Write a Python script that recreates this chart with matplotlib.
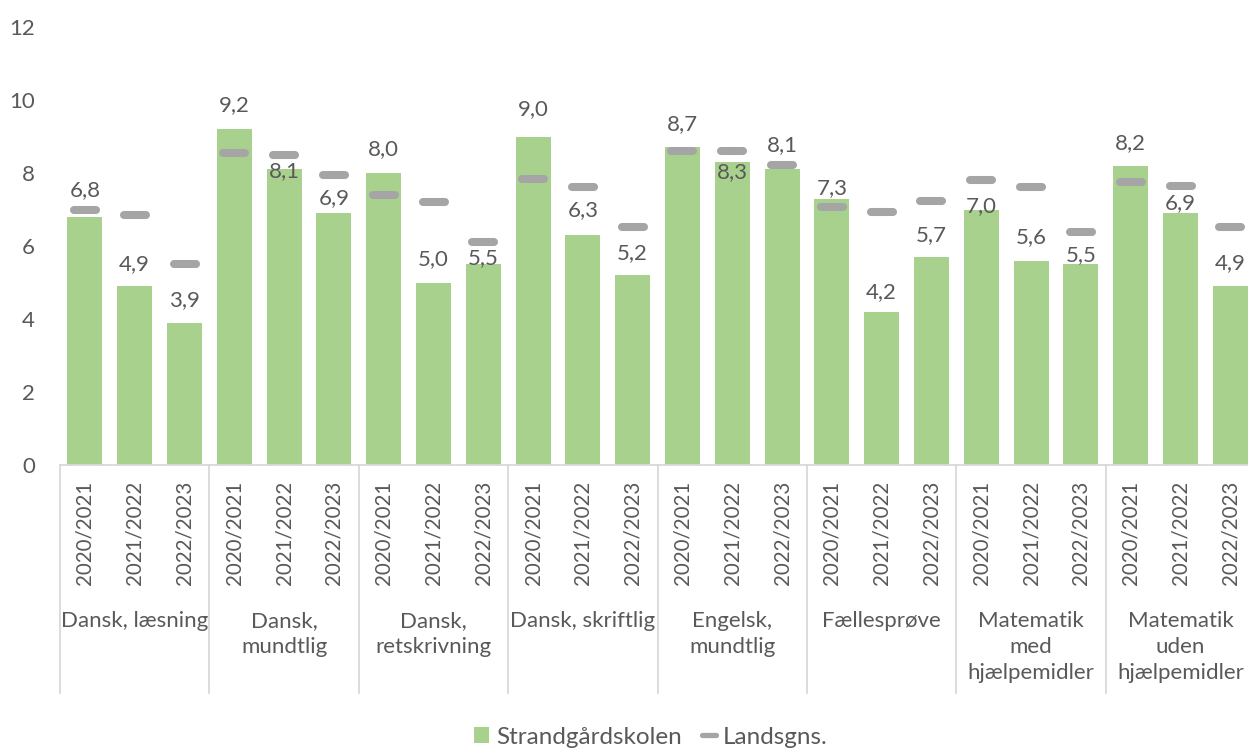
import numpy as np
import matplotlib
matplotlib.use("Agg")
import matplotlib.pyplot as plt
from matplotlib.markers import MarkerStyle
from matplotlib.lines import Line2D
from matplotlib.patches import Patch
import matplotlib.transforms as mtransforms

plt.rcParams['font.family'] = ['Lato', 'DejaVu Sans']

# data
subjects = ['Dansk, læsning', 'Dansk,\nmundtlig', 'Dansk,\nretskrivning', 'Dansk, skriftlig',
            'Engelsk,\nmundtlig', 'Fællesprøve', 'Matematik\nmed\nhjælpemidler',
            'Matematik\nuden\nhjælpemidler']
years = ['2020/2021', '2021/2022', '2022/2023']

school = [6.8, 4.9, 3.9,
          9.2, 8.1, 6.9,
          8.0, 5.0, 5.5,
          9.0, 6.3, 5.2,
          8.7, 8.3, 8.1,
          7.3, 4.2, 5.7,
          7.0, 5.6, 5.5,
          8.2, 6.9, 4.9]
national = [7.0, 6.85, 5.5,
            8.54, 8.49, 7.94,
            7.4, 7.2, 6.1,
            7.83, 7.63, 6.52,
            8.61, 8.61, 8.22,
            7.06, 6.94, 7.24,
            7.81, 7.61, 6.38,
            7.76, 7.64, 6.52]

# label offsets above bar top (pixels), labels were hand-placed in the original
label_offset = [27, 22, 23,
                24, -2, 15,
                24, 23, 6,
                27, 25, 22,
                23, -10, 24,
                10, 20, 22,
                3, 24, 9,
                23, 10, 23]

GREEN = '#A9D18E'
GREY = '#A5A5A5'
TXT = '#595959'
LINE = '#D9D9D9'
FS = 16

W, H = 1248, 749
fig = plt.figure(figsize=(W / 100, H / 100), dpi=100)
ax = fig.add_axes([60 / W, 284 / H, (W - 60) / W, 438 / H])

x = np.arange(len(school))
ax.bar(x, school, width=0.7, color=GREEN, zorder=2)

dash = MarkerStyle('_', capstyle='round')
ax.plot(x, national, ls='', marker=dash, markersize=16, markeredgewidth=5.8,
        color=GREY, zorder=3)

for xi, v, off in zip(x, school, label_offset):
  ax.annotate(f'{v:.1f}'.replace('.', ','), (xi, v), xytext=(0, off),
              textcoords='offset pixels', ha='center', va='center',
              fontsize=FS, color=TXT, zorder=4)

ax.set_xlim(-0.5, -0.5 + 1188 / 49.8)
ax.set_ylim(0, 12)
ax.set_yticks(range(0, 13, 2))
ax.tick_params(axis='y', length=0, pad=18, labelsize=FS, labelcolor=TXT)

ax.set_xticks(x)
ax.set_xticklabels(years * len(subjects), rotation=90, va='top')
ax.tick_params(axis='x', length=0, pad=11, labelsize=14.8, labelcolor=TXT)

for s in ['top', 'right', 'left']:
  ax.spines[s].set_visible(False)
ax.spines['bottom'].set_color(LINE)
ax.spines['bottom'].set_linewidth(1.3)

# group labels and separators under the axis
trans = mtransforms.blended_transform_factory(ax.transData, ax.transAxes)
sep_bottom = (465 - 693) / 438
for g in range(len(subjects) + 1):
  ax.plot([g * 3 - 0.5] * 2, [0, sep_bottom], color=LINE, lw=1.3,
          transform=trans, clip_on=False)
for g, name in enumerate(subjects):
  ax.text(g * 3 + 1, (465 - 611) / 438, name, transform=trans, ha='center',
          va='top', fontsize=FS, color=TXT, linespacing=1.38, multialignment='center')

handles = [Patch(facecolor=GREEN, edgecolor='none'),
           Line2D([], [], ls='', marker=dash, markersize=10.5, markeredgewidth=3.8, color=GREY)]
fig.legend(handles, ['Strandgårdskolen', 'Landsgns.'], loc='center',
           bbox_to_anchor=(651 / W, 1 - 737 / H), ncol=2, frameon=False,
           fontsize=17.5, labelcolor=TXT, handlelength=0.6, handleheight=0.6,
           handletextpad=0.3, columnspacing=0.8)

fig.savefig('out.png', dpi=100)
